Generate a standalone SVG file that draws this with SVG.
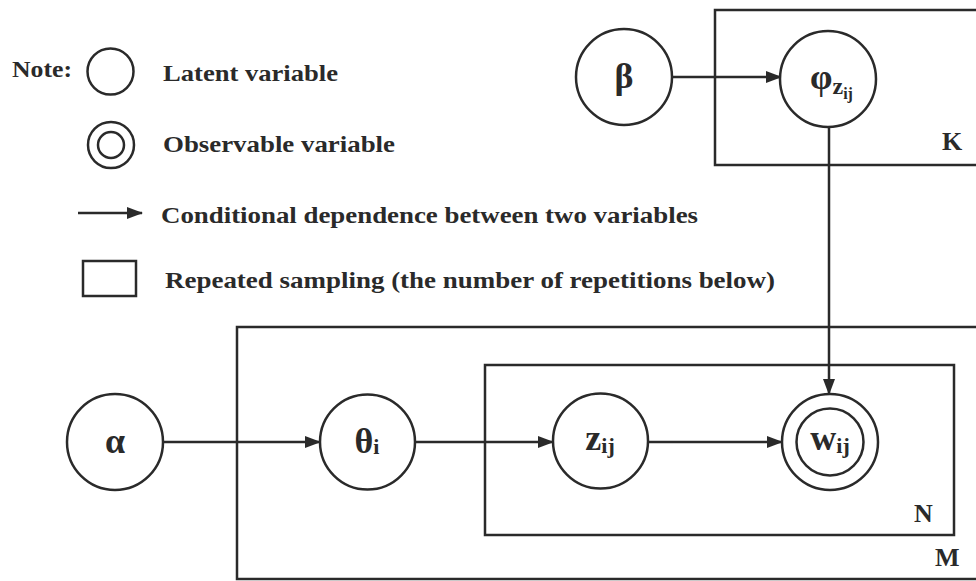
<svg xmlns="http://www.w3.org/2000/svg" width="976" height="581" viewBox="0 0 976 581">
<style>
  .ln { stroke:#2a2a2a; stroke-width:2.5; fill:none; }
  .nd { stroke:#2a2a2a; stroke-width:2.5; fill:#fff; }
  .tx { font-family:"Liberation Serif","Times New Roman",serif; font-weight:bold; fill:#2a2a2a; }
  .lg { font-size:24px; }
  .gk { font-size:36px; }
  .pl { font-size:26px; }
</style>
<defs>
  <marker id="ah" markerUnits="userSpaceOnUse" markerWidth="16" markerHeight="12" refX="15" refY="6" orient="auto">
    <path d="M0,0 L16,6 L0,12 Z" fill="#2a2a2a"/>
  </marker>
</defs>
<rect width="976" height="581" fill="#fff"/>

<g id="legend">
  <text class="tx lg" x="12" y="77" textLength="60" lengthAdjust="spacingAndGlyphs">Note:</text>
  <circle class="nd" cx="110.5" cy="71.5" r="23"/>
  <text class="tx lg" x="163" y="81" textLength="175" lengthAdjust="spacingAndGlyphs">Latent variable</text>
  <circle class="nd" cx="111" cy="145" r="23"/>
  <circle class="nd" cx="111" cy="145" r="13"/>
  <text class="tx lg" x="163" y="152" textLength="232" lengthAdjust="spacingAndGlyphs">Observable variable</text>
  <line class="ln" x1="78" y1="213" x2="142" y2="213" marker-end="url(#ah)"/>
  <text class="tx lg" x="161" y="223" textLength="537" lengthAdjust="spacingAndGlyphs">Conditional dependence between two variables</text>
  <rect class="ln" x="83" y="261" width="53" height="35"/>
  <text class="tx lg" x="165" y="288" textLength="610" lengthAdjust="spacingAndGlyphs">Repeated sampling (the number of repetitions below)</text>
</g>

<g id="plate-K">
  <rect class="ln" x="715" y="10" width="300" height="155"/>
  <text class="tx pl" x="942" y="150">K</text>
</g>
<g id="plate-M">
  <rect class="ln" x="237" y="327" width="800" height="252"/>
  <text class="tx pl" x="935" y="566">M</text>
</g>
<g id="plate-N">
  <rect class="ln" x="485" y="365" width="469" height="170"/>
  <text class="tx pl" x="914" y="522">N</text>
</g>

<g id="connectors">
  <line class="ln" x1="672" y1="77" x2="781" y2="77" marker-end="url(#ah)"/>
  <line class="ln" x1="829" y1="127" x2="829" y2="394" marker-end="url(#ah)"/>
  <line class="ln" x1="163" y1="442" x2="320" y2="442" marker-end="url(#ah)"/>
  <line class="ln" x1="415" y1="442" x2="553" y2="442" marker-end="url(#ah)"/>
  <line class="ln" x1="648" y1="442" x2="782" y2="442" marker-end="url(#ah)"/>
</g>

<g id="node-beta">
  <circle class="nd" cx="624" cy="77" r="48"/>
  <text class="tx gk" x="624" y="88" text-anchor="middle" font-size="34px">β</text>
</g>
<g id="node-phi">
  <circle class="nd" cx="828" cy="79" r="48"/>
  <text class="tx gk" x="810" y="89" font-size="32px">φ<tspan font-size="24px" dy="5">z</tspan><tspan font-size="16px" dy="5">ij</tspan></text>
</g>
<g id="node-alpha">
  <circle class="nd" cx="115" cy="442" r="48"/>
  <text class="tx gk" x="115" y="453" text-anchor="middle">α</text>
</g>
<g id="node-theta">
  <circle class="nd" cx="367.5" cy="442" r="47.5"/>
  <text class="tx gk" x="367" y="453" text-anchor="middle" font-size="32px">θ<tspan font-size="22px" dy="1">i</tspan></text>
</g>
<g id="node-z">
  <circle class="nd" cx="600.5" cy="441" r="47.5"/>
  <text class="tx gk" x="600" y="450" text-anchor="middle">z<tspan font-size="22px" dy="3">ij</tspan></text>
</g>
<g id="node-w">
  <circle class="nd" cx="830" cy="442" r="48"/>
  <circle class="nd" cx="830" cy="442" r="33.5"/>
  <text class="tx gk" x="830" y="450" text-anchor="middle" font-size="32px">w<tspan font-size="22px" dy="3">ij</tspan></text>
</g>
</svg>
